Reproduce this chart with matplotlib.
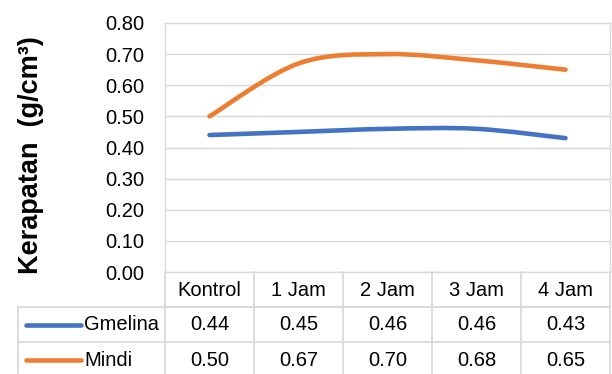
import numpy as np
from matplotlib import pyplot as plt
from matplotlib.path import Path
from matplotlib.patches import PathPatch
from matplotlib.lines import Line2D

plt.rcParams['font.family'] = ['Liberation Sans', 'DejaVu Sans']

categories = ['Kontrol', '1 Jam', '2 Jam', '3 Jam', '4 Jam']
gmelina = [0.44, 0.45, 0.46, 0.46, 0.43]
mindi = [0.50, 0.67, 0.70, 0.68, 0.65]
yticks = [0.0, 0.1, 0.2, 0.3, 0.4, 0.5, 0.6, 0.7, 0.8]

W, H = 612, 374
grid_c = '#d9d9d9'
blue = '#4472c4'
orange = '#ed7d31'
fs = 14.5

fig = plt.figure(figsize=(W / 100, H / 100), dpi=100)
left, right, top, bottom = 165, 610, 23, 272
ax = fig.add_axes([left / W, 1 - bottom / H, (right - left) / W, (bottom - top) / H])


def fx(x):
    return x / W


def fy(y):
    return 1 - y / H


def smooth_path(xs, ys):
    # excel style smoothed line: bezier through each point
    pts = np.column_stack([xs, ys]).astype(float)
    n = len(pts)
    verts = [pts[0]]
    codes = [Path.MOVETO]
    for i in range(n - 1):
        p0 = pts[i - 1] if i > 0 else pts[i]
        p1 = pts[i]
        p2 = pts[i + 1]
        p3 = pts[i + 2] if i + 2 < n else pts[i + 1]
        c1 = p1 + (p2 - p0) / 6
        c2 = p2 - (p3 - p1) / 6
        verts += [c1, c2, p2]
        codes += [Path.CURVE4] * 3
    return Path(verts, codes)


x = np.arange(len(categories))
for vals, col in [(gmelina, blue), (mindi, orange)]:
    ax.add_patch(PathPatch(smooth_path(x, vals), facecolor='none', edgecolor=col,
                           lw=3.3, capstyle='round', joinstyle='round', zorder=3))

ax.set_xlim(-0.5, len(categories) - 0.5)
ax.set_ylim(0, 0.8)
ax.set_yticks(yticks)
ax.set_yticklabels(['%.2f' % v for v in yticks], fontsize=fs)
ax.set_xticks([])
ax.tick_params(axis='y', length=0, pad=15)
ax.grid(axis='y', color=grid_c, lw=1)
for s in ax.spines.values():
    s.set_color(grid_c)
    s.set_linewidth(1)

fig.text(fx(31), fy(155), 'Kerapatan  (g/cm\u00b3)', rotation=90, ha='center', va='center',
         fontsize=19.5, fontweight='bold')

# data table below the axes
col_w = (right - left) / len(categories)
lines = []
lines.append(((left, right), (307, 307)))
lines.append(((18, right), (307, 307)))
lines.append(((18, right), (342, 342)))
for k in range(len(categories) + 1):
    lines.append(((left + k * col_w, left + k * col_w), (272, 377)))
lines.append(((18, 18), (307, 377)))
for xs, ys in lines:
    fig.add_artist(Line2D([fx(xs[0]), fx(xs[1])], [fy(ys[0]), fy(ys[1])],
                          transform=fig.transFigure, color=grid_c, lw=1.3))

for k, c in enumerate(categories):
    cx = left + (k + 0.5) * col_w
    fig.text(fx(cx), fy(290), c, ha='center', va='center', fontsize=fs)
    fig.text(fx(cx), fy(325), '%.2f' % gmelina[k], ha='center', va='center', fontsize=fs)
    fig.text(fx(cx), fy(360), '%.2f' % mindi[k], ha='center', va='center', fontsize=fs)

for name, col, yc in [('Gmelina', blue, 325), ('Mindi', orange, 360)]:
    fig.add_artist(Line2D([fx(26), fx(81)], [fy(yc), fy(yc)], transform=fig.transFigure,
                          color=col, lw=3.3, solid_capstyle='round'))
    fig.text(fx(84), fy(yc), name, ha='left', va='center', fontsize=fs)

fig.savefig('out.png', dpi=100)
